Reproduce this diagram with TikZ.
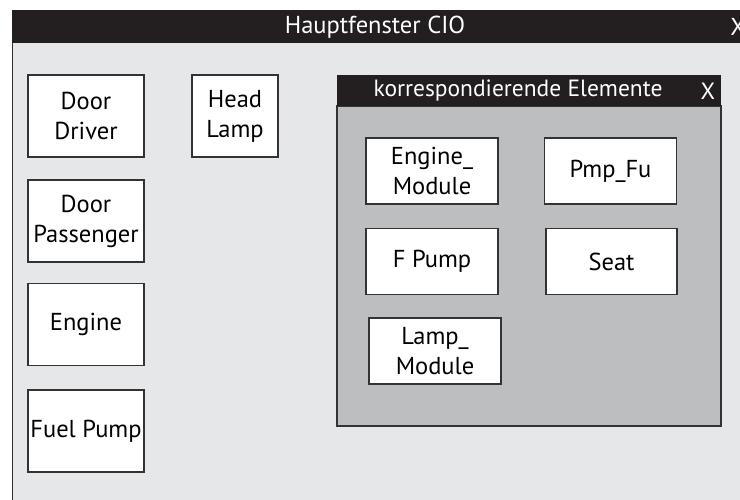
\documentclass[tikz,border=0pt]{standalone}
\usepackage{fontspec}
\setmainfont{PT Sans}
\begin{document}
\begin{tikzpicture}[x=1pt,y=-1pt,
  every node/.style={font=\fontsize{24.5}{30}\selectfont},
  titlebar/.style={fill=barblack,draw=none},
  wintext/.style={text=white,inner sep=0pt},
  item/.style={draw=edgegray,line width=1.3pt,fill=white,align=center,inner sep=0pt}]
\definecolor{barblack}{HTML}{231F20}
\definecolor{edgegray}{HTML}{333333}
\definecolor{mainbg}{HTML}{E6E7E8}
\definecolor{subbg}{HTML}{BCBEC0}
\useasboundingbox (0,0) rectangle (740,500);
\clip (0,0) rectangle (740,500);

% main window
\fill[mainbg] (12,43) rectangle (760,520);
\draw[edgegray,line width=1.3pt] (12.5,43) -- (12.5,520);
\fill[titlebar] (12,10) rectangle (760,43);
\node[wintext] (maintitle) at (375,27) {Hauptfenster CIO};
\node[wintext] (mainclose) at (738,27) {X};

% items of the main window
\node[item,minimum width=116pt,minimum height=82pt] (dd) at (86,116) {Door\\Driver};
\node[item,minimum width=116pt,minimum height=82pt] (dp) at (86,221) {Door\\Passenger};
\node[item,minimum width=116pt,minimum height=82pt] (en) at (86,324.5) {Engine};
\node[item,minimum width=116pt,minimum height=82pt] (fp) at (86,431) {Fuel Pump};
\node[item,minimum width=86pt,minimum height=82pt] (hl) at (235,116) {Head\\Lamp};

% sub window
\fill[subbg] (337,106) rectangle (721,426);
\draw[edgegray,line width=1.3pt] (337,106) rectangle (721,426);
\fill[titlebar] (337,75) rectangle (721,106);
\node[wintext,font=\fontsize{23.5}{28}\selectfont] (subtitle) at (518,91) {korrespondierende Elemente};
\node[wintext,font=\fontsize{23.5}{28}\selectfont] (subclose) at (708,91) {X};

% items of the sub window
\node[item,minimum width=132pt,minimum height=66pt] (em) at (432,171) {Engine\_\\Module};
\node[item,minimum width=132pt,minimum height=66pt] (pf) at (610.5,171) {Pmp\_Fu};
\node[item,minimum width=132pt,minimum height=66pt] (fpm) at (432,261.5) {F Pump};
\node[item,minimum width=131pt,minimum height=66pt] (st) at (611.5,261.5) {Seat};
\node[item,minimum width=132pt,minimum height=66pt] (lm) at (435,351) {Lamp\_\\Module};
\end{tikzpicture}
\end{document}
